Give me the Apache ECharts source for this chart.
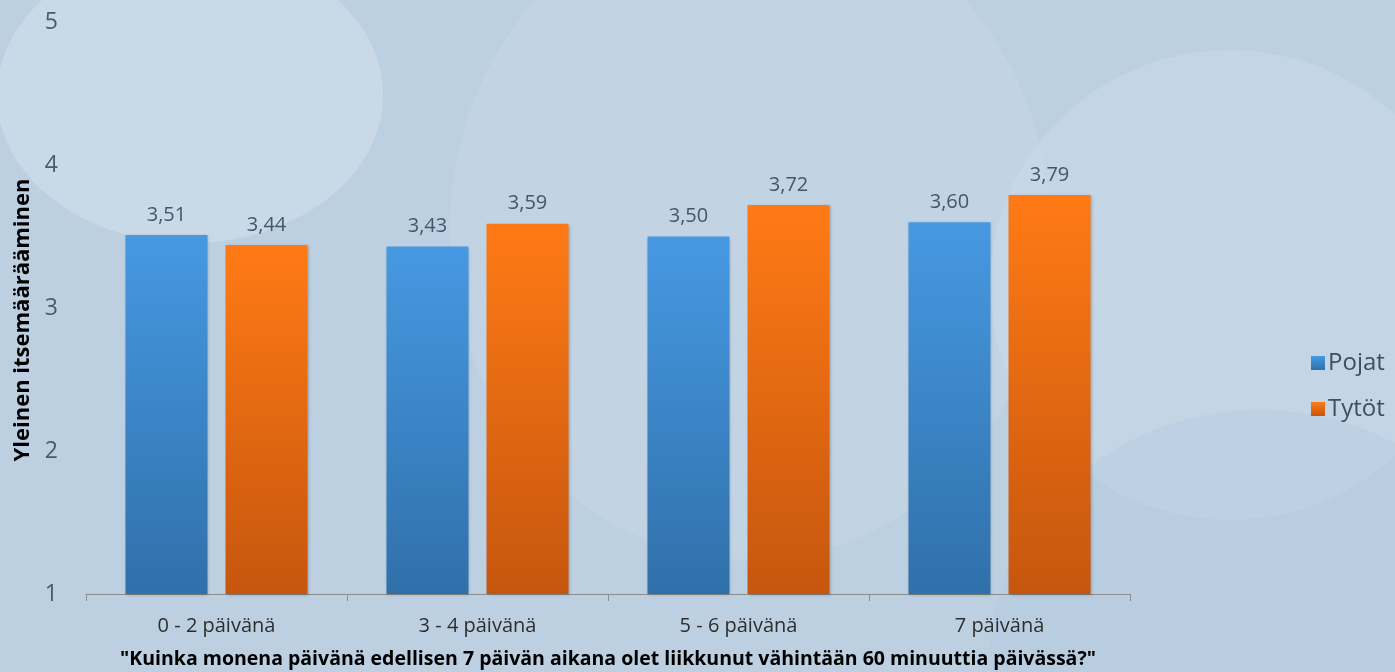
<!DOCTYPE html>
<html><head><meta charset="utf-8">
<script src="https://cdn.jsdelivr.net/npm/echarts@6/dist/echarts.min.js"></script>
<style>html,body{margin:0;padding:0;background:#bdd0e1;}#c{width:1395px;height:672px;}</style>
</head><body><div id="c"></div>
<script>
const categories = ['0 - 2 päivänä', '3 - 4 päivänä', '5 - 6 päivänä', '7 päivänä'];
const pojat = [3.51, 3.43, 3.50, 3.60];
const tytot = [3.44, 3.59, 3.72, 3.79];
const seriesNames = ['Pojat', 'Tytöt'];
const yTicks = [1, 2, 3, 4, 5];
const yAxisTitle = 'Yleinen itsemäärääminen';
const xAxisTitle = '"Kuinka monena päivänä edellisen 7 päivän aikana olet liikkunut vähintään 60 minuuttia päivässä?"';

const FONT = '"Open Sans", sans-serif';
const chart = echarts.init(document.getElementById('c'), null, {renderer: 'canvas'});
const fmt = v => v.value.toFixed(2).replace('.', ',');
const blueGrad = new echarts.graphic.LinearGradient(0, 0, 0, 1, [{offset: 0, color: '#4699e2'}, {offset: 1, color: '#3070aa'}]);
const orangeGrad = new echarts.graphic.LinearGradient(0, 0, 0, 1, [{offset: 0, color: '#ff7a15'}, {offset: 1, color: '#c6560e'}]);
chart.setOption({
  backgroundColor: '#bdd0e1',
  graphic: [
    {type: 'ellipse', z: -10, shape: {cx: 750, cy: 230, rx: 300, ry: 330}, style: {fill: 'rgba(215,228,240,0.18)'}, silent: true},
    {type: 'ellipse', z: -10, shape: {cx: 1230, cy: 285, rx: 240, ry: 235}, style: {fill: 'rgba(215,228,240,0.28)'}, silent: true},
    {type: 'ellipse', z: -10, shape: {cx: 1260, cy: 660, rx: 270, ry: 250}, style: {fill: 'rgba(175,198,222,0.30)'}, silent: true},
    {type: 'ellipse', z: -10, shape: {cx: 190, cy: 95, rx: 193, ry: 148}, style: {fill: 'rgba(215,228,240,0.45)'}, silent: true}
  ],
  grid: {left: 86, right: 265, top: 22, bottom: 78, containLabel: false, outerBoundsMode: 'none'},
  legend: {
    orient: 'vertical', left: 1306, top: 346, itemWidth: 14, itemHeight: 14, itemGap: 22,
    icon: 'rect',
    textStyle: {fontFamily: FONT, fontSize: 24, color: '#3f4f63', padding: [0, 0, 0, -2]},
    data: seriesNames
  },
  xAxis: {
    type: 'category', data: categories,
    axisLine: {lineStyle: {color: '#8c8c8c', width: 1}},
    axisTick: {show: true, length: 7, lineStyle: {color: '#8c8c8c'}},
    axisLabel: {fontFamily: FONT, fontSize: 20, color: '#2e2e2e', margin: 22},
    name: xAxisTitle, nameLocation: 'middle', nameGap: 55,
    nameTextStyle: {fontFamily: FONT, fontSize: 19.5, fontWeight: 'bold', color: '#000'}
  },
  yAxis: {
    type: 'value', min: 1, max: 5, interval: 1,
    axisLine: {show: false}, axisTick: {show: false}, splitLine: {show: false},
    axisLabel: {fontFamily: FONT, fontSize: 23, color: '#4a5a6e', margin: 28, formatter: v => yTicks.includes(v) ? String(v) : ''},
    name: yAxisTitle, nameLocation: 'middle', nameGap: 50, nameRotate: 90,
    nameTextStyle: {fontFamily: FONT, fontSize: 22, fontWeight: 'bold', color: '#000', padding: [0, 24, 0, 0]}
  },
  series: [
    {name: seriesNames[0], type: 'bar', data: pojat, barWidth: 82, barGap: '22%',
     itemStyle: {color: blueGrad, shadowColor: 'rgba(0,0,0,0.25)', shadowBlur: 3, shadowOffsetX: 1, shadowOffsetY: 1},
     label: {show: true, position: 'top', distance: 10, formatter: fmt, fontFamily: FONT, fontSize: 20, color: '#46566a'}},
    {name: seriesNames[1], type: 'bar', data: tytot, barWidth: 82,
     itemStyle: {color: orangeGrad, shadowColor: 'rgba(0,0,0,0.25)', shadowBlur: 3, shadowOffsetX: 1, shadowOffsetY: 1},
     label: {show: true, position: 'top', distance: 10, formatter: fmt, fontFamily: FONT, fontSize: 20, color: '#46566a'}}
  ]
});
</script></body></html>
